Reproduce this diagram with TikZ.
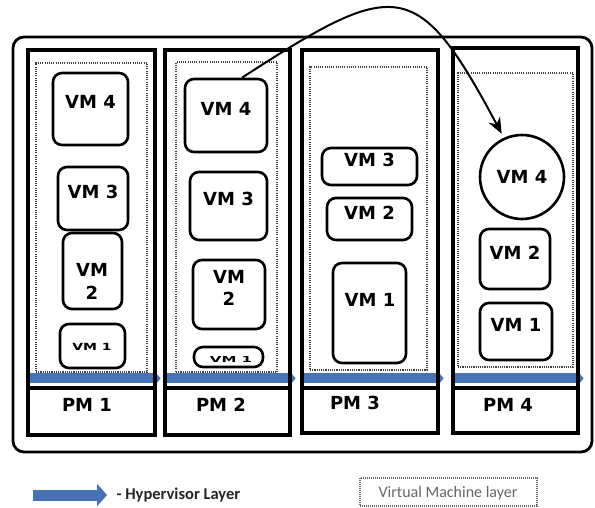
\documentclass[tikz,border=0pt]{standalone}
\usepackage{fontspec}
\usepackage{graphicx}
\setmainfont{DejaVu Sans}
\newfontfamily\legfont{Carlito}
\usetikzlibrary{arrows.meta,fit,shapes.geometric}
\definecolor{hvblue}{RGB}{72,114,182}
\begin{document}
\begin{tikzpicture}[x=1pt,y=-1pt,
  outerbox/.style={draw, line width=2.8pt, rounded corners=11pt, inner sep=0pt},
  pmbox/.style={draw, line width=3.2pt, inner sep=0pt},
  vmlayer/.style={draw=black!75, line width=2pt, dash pattern=on 1.1pt off 1.1pt, inner sep=0pt},
  vmbox/.style={draw, line width=2.6pt, rounded corners=9pt, inner sep=0pt, fill=white,
                font=\bfseries\fontsize{18}{22}\selectfont, align=center},
  pmlabel/.style={font=\bfseries\fontsize{18}{22}\selectfont},
  hyper/.style={draw=hvblue, line width=10pt, shorten >=-4pt, -{Triangle[length=6pt,width=14pt]}},
  legarrow/.style={draw=hvblue, fill=hvblue, line width=11pt, -{Triangle[length=10pt,width=22pt]}},
  migrate/.style={line width=2pt, -{Stealth[length=16pt,width=13pt]}}
]
\useasboundingbox (0,0) rectangle (595,508);

% outer frame
\node[outerbox, fit={(13,37) (592,452)}] (frame) {};

% PM label boxes
\node[pmbox, fit={(28,388) (155,435)}] (pml1) {};
\node[pmbox, fit={(165,388) (290,435)}] (pml2) {};
\node[pmbox, fit={(302,388) (438,433)}] (pml3) {};
\node[pmbox, fit={(453,388) (578,433)}] (pml4) {};

% hypervisor layers
\draw[hyper] ([yshift=8pt]pml1.north west) -- ([yshift=8pt]pml1.north east);
\draw[hyper] ([yshift=8pt]pml2.north west) -- ([yshift=8pt]pml2.north east);
\draw[hyper] ([yshift=8pt]pml3.north west) -- ([yshift=8pt]pml3.north east);
\draw[hyper] ([yshift=8pt]pml4.north west) -- ([yshift=8pt]pml4.north east);

% PM columns
\node[pmbox, fit={(28,50) (155,435)}] (pm1) {};
\node[pmbox, fit={(165,50) (290,435)}] (pm2) {};
\node[pmbox, fit={(302,50) (438,433)}] (pm3) {};
\node[pmbox, fit={(453,48) (578,433)}] (pm4) {};

\node[pmlabel] (t1) at (87,405) {PM 1};
\node[pmlabel] (t2) at (221,405) {PM 2};
\node[pmlabel] (t3) at (355,403) {PM 3};
\node[pmlabel] (t4) at (508,405) {PM 4};

% virtual machine layers
\node[vmlayer, fit={(36,63) (147,372)}] (vl1) {};
\node[vmlayer, fit={(176,62) (277,372)}] (vl2) {};
\node[vmlayer, fit={(310,67) (427,370)}] (vl3) {};
\node[vmlayer, fit={(458,73) (573,367)}] (vl4) {};

% PM1 VMs
\node[vmbox, fit={(53,73) (128,145)}] (a4) {VM 4};
\node[vmbox, fit={(58,167) (128,230)}] (a3) {VM 3};
\node[vmbox, fit={(63,233) (122,309)}] (a2) {};
\node[vmbox, font=\bfseries\fontsize{18}{23}\selectfont, draw=none, fill=none] (a2t) at (92,281) {VM\\2};
\node[vmbox, fit={(60,324) (125,368)}] (a1) {};
\node[font=\bfseries\fontsize{14}{14}\selectfont] (a1t) at (92,347) {\scalebox{1}[0.7]{VM 1}};

% PM2 VMs
\node[vmbox, fit={(185,79) (267,152)}] (pm2vm4) {VM 4};
\node[vmbox, fit={(190,172) (267,240)}] (b3) {VM 3};
\node[vmbox, fit={(193,260) (265,329)}] (b2) {VM\\2};
\node[vmbox, fit={(194,347) (263,367)}] (b1) {};
\begin{scope}
  \clip (194,349) rectangle (263,363);
  \node[font=\bfseries\fontsize{15}{15}\selectfont] (b1t) at (231,359) {\scalebox{1}[0.55]{VM 1}};
\end{scope}

% PM3 VMs
\node[vmbox, fit={(322,148) (417,185)}] (c3) {VM 3};
\node[vmbox, fit={(327,198) (412,240)}] (c2) {VM 2};
\node[vmbox, fit={(333,263) (406,363)}] (c1) {};
\node[pmlabel] (c1t) at (370,300) {VM 1};

% PM4 VMs
\node[vmbox, circle, minimum size=84pt] (pm4vm4) at (522,177) {VM 4};
\node[vmbox, fit={(480,229) (550,289)}] (d2) {VM 2};
\node[vmbox, fit={(480,303) (552,360)}] (d1) {VM 1};

% migration
\draw[migrate] ([xshift=16pt]pm2vm4.north) .. controls (396,-22) and (417,-25) .. ([shift={(-2pt,4pt)}]pm4vm4.115);

% legend
\coordinate (la) at (33,495);
\coordinate (lb) at (107,495);
\draw[legarrow] (la) -- (lb);
\node[anchor=west, text=black!85, font=\legfont\bfseries\fontsize{16.5}{17}\selectfont] (hl) at (113,495) {- Hypervisor Layer};
\node[draw=black!60, line width=1.4pt, dash pattern=on 1pt off 1pt, inner sep=0pt, fit={(360,478) (537,506)}] (vlleg) {};
\node[text=black!60, font=\legfont\fontsize{16}{16}\selectfont] (vlt) at (448,493) {Virtual Machine layer};
\end{tikzpicture}
\end{document}
